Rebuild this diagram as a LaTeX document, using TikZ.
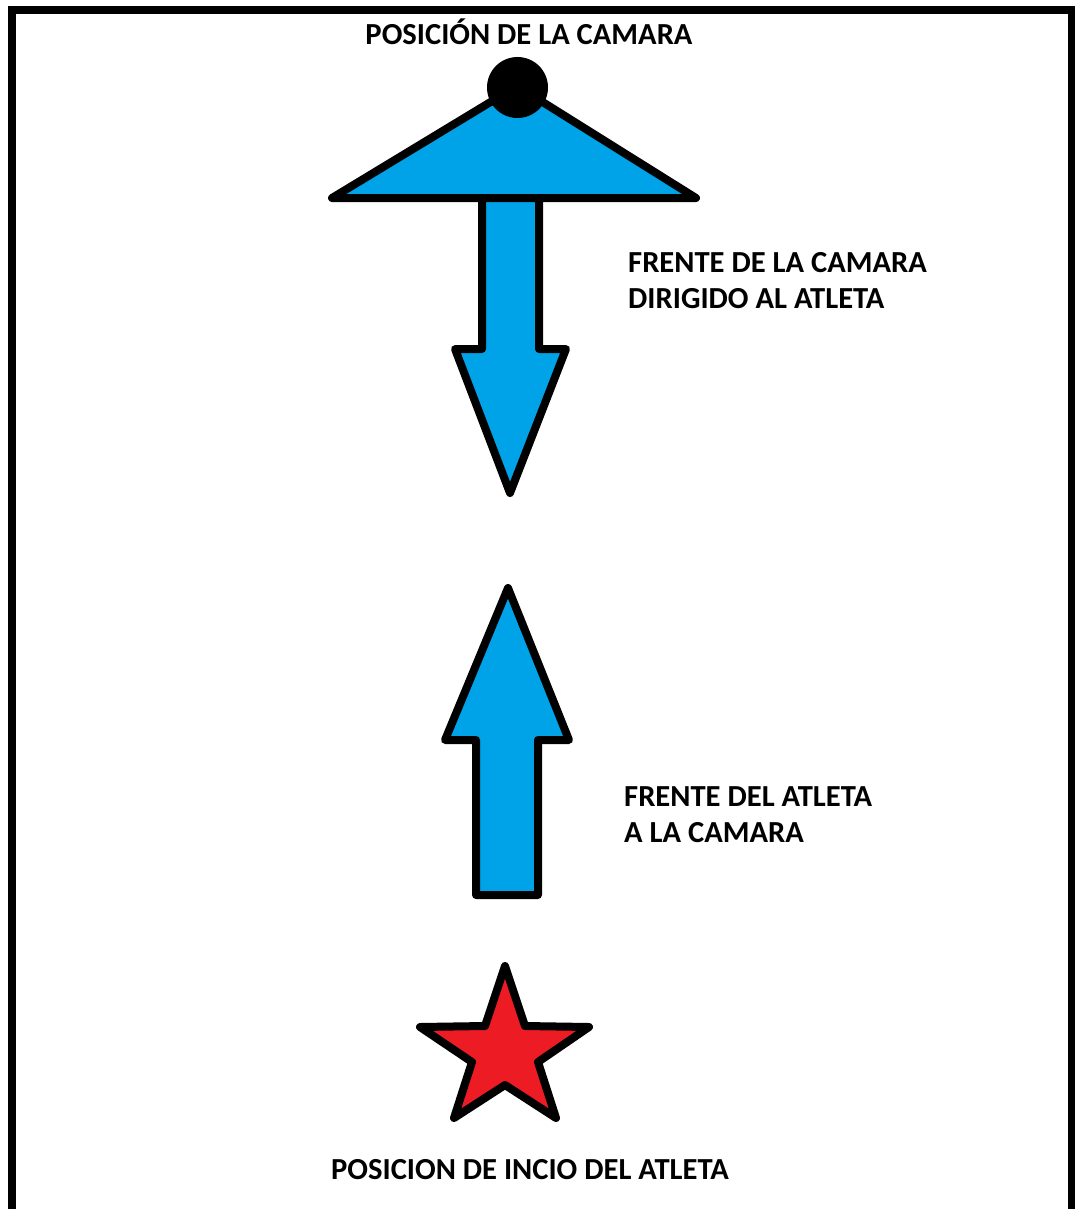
\documentclass[tikz,border=0pt]{standalone}
\usepackage{fontspec}
\setmainfont{Carlito}
\definecolor{paintblue}{RGB}{0,162,232}
\definecolor{paintred}{RGB}{237,28,36}
\begin{document}
\begin{tikzpicture}[x=1pt,y=-1pt,
  shapeline/.style={draw=black,line width=8pt,line join=round},
  label/.style={font=\bfseries\fontsize{30.6}{36}\selectfont,inner sep=0pt,text=black}]
\useasboundingbox (0,0) rectangle (1074,1209);
% frame
\draw[line width=8pt] (12,1220) -- (12,10) -- (1072,10) -- (1072,1220);
% down arrow
\draw[shapeline,fill=paintblue] (482,198) -- (482,349) -- (455,349) -- (510,493) -- (566,349) -- (539,349) -- (539,198);
% triangle
\draw[shapeline,fill=paintblue] (332,198) -- (517,86) -- (696,198) -- cycle;
% camera
\fill[black] (517.5,87.5) circle[radius=30.5];
% up arrow
\draw[shapeline,fill=paintblue] (508,588) -- (569,740) -- (538,740) -- (538,895) -- (476,895) -- (476,740) -- (445,740) -- cycle;
% star
\draw[shapeline,fill=paintred] (505,966) -- (525,1026) -- (589,1027) -- (538,1062) -- (556,1118) -- (505,1085) -- (454,1118) -- (472,1062) -- (420,1027) -- (485,1026) -- cycle;
% labels
\node[label,anchor=base] (cam) at (529,45) {POSICIÓN DE LA CAMARA};
\node[label,anchor=north west,align=left] (frentecam) at (628,252) {FRENTE DE LA CAMARA\\DIRIGIDO AL ATLETA};
\node[label,anchor=north west,align=left] (frenteatl) at (624,786) {FRENTE DEL ATLETA\\A LA CAMARA};
\node[label,anchor=base] (inicio) at (530,1179) {POSICION DE INCIO DEL ATLETA};
\end{tikzpicture}
\end{document}
